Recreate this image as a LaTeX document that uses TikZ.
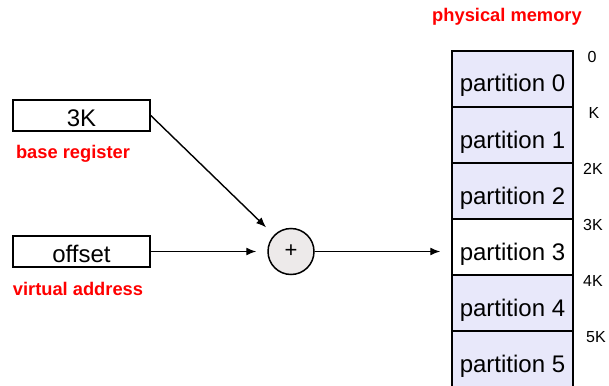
\documentclass[tikz,border=0pt]{standalone}
\usepackage{fontspec}
\setmainfont{Liberation Sans}
\usetikzlibrary{arrows.meta}
\definecolor{partfill}{HTML}{E8E8FA}
\definecolor{sumfill}{HTML}{EDEAEA}
\definecolor{labred}{HTML}{FF0000}
\tikzset{
  regbox/.style={draw, line width=1.5pt, minimum width=137pt, minimum height=31pt, inner sep=0pt, text height=21pt, text depth=0pt, font=\fontsize{24}{26}\selectfont},
  partbox/.style={draw, line width=1.5pt, fill=partfill, minimum width=121pt, minimum height=56pt, inner sep=0pt, text height=26pt, text depth=0pt, font=\fontsize{24}{26}\selectfont},
  redlabel/.style={text=labred, font=\bfseries\fontsize{18.3}{20}\selectfont},
  addr/.style={font=\fontsize{16}{18}\selectfont},
  arr/.style={-{Latex[length=10pt,width=8pt]}, line width=1.4pt, shorten >=11pt}
}
\begin{document}
\begin{tikzpicture}[x=1pt,y=-1pt]
    \useasboundingbox (0,0) rectangle (609,385);
    % registers
    \node [regbox] (base) at (81.5,115.5) {3K};
    \node [redlabel] (baselab) at (73,154) {base register};
    \node [regbox] (offset) at (81.5,251.5) {offset};
    \node [redlabel] (offlab) at (78,289) {virtual address};
    % adder
    \node [circle, draw, line width=1.5pt, fill=sumfill, minimum size=46pt, inner sep=0pt, font=\fontsize{22}{24}\selectfont] (sum) at (291,251.5) {+};
    % physical memory
    \node [redlabel] (memlab) at (507,17) {physical memory};
    \node [partbox] (part0) at (512.5,79) {partition 0};
    \node [partbox] (part1) at (512.5,135) {partition 1};
    \node [partbox] (part2) at (512.5,191) {partition 2};
    \node [partbox, fill=white] (part3) at (512.5,247) {partition 3};
    \node [partbox] (part4) at (512.5,303) {partition 4};
    \node [partbox] (part5) at (512.5,359) {partition 5};
    % addresses
    \node [addr] (a0) at (592,57) {0};
    \node [addr] (a1) at (594,113) {K};
    \node [addr] (a2) at (593,169) {2K};
    \node [addr] (a3) at (593,225) {3K};
    \node [addr] (a4) at (593,281) {4K};
    \node [addr] (a5) at (596,337) {5K};
    % connectors
    \draw [arr] (base.east) -- (sum);
    \draw [arr] (offset.east) -- (sum.west);
    \draw [arr] (sum.east) -- (sum.east -| part3.west);
\end{tikzpicture}
\end{document}
